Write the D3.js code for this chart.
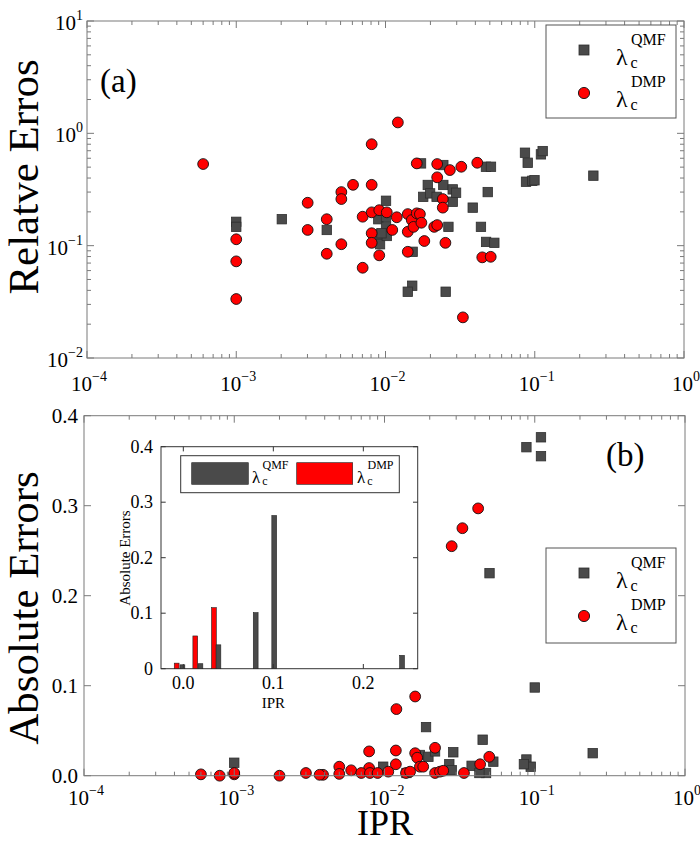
<!DOCTYPE html>
<html><head><meta charset="utf-8">
<script src="https://cdn.jsdelivr.net/npm/d3@7"></script>
<style>body{margin:0;background:#fff}svg{font-family:"Liberation Serif","DejaVu Serif",serif}</style>
</head><body><svg id="c" width="700" height="843"></svg>
<script>
// ---------- data ----------
const topQmfIPR = [0.001,0.001,0.00202,0.00404,0.00895,0.00919,0.00919,0.01008,0.01008,0.0102,0.01008,0.0094,0.0152,0.0151,0.0141,0.0173,0.0179,0.0192,0.0199,0.022,0.0244,0.0244,0.0253,0.0264,0.0282,0.0282,0.0297,0.0384,0.0436,0.0471,0.0509,0.0484,0.0472,0.0536,0.086,0.0897,0.110,0.113,0.0874,0.0963,0.0996,0.247];
const topQmfErr = [0.163,0.147,0.172,0.138,0.172,0.126,0.103,0.251,0.181,0.122,0.147,0.129,0.0882,0.044,0.0389,0.54,0.272,0.347,0.292,0.272,0.522,0.347,0.0389,0.147,0.317,0.246,0.296,0.218,0.147,0.504,0.504,0.30,0.108,0.106,0.672,0.547,0.65,0.695,0.371,0.378,0.382,0.42];
const topDmpIPR = [0.0006,0.001,0.001,0.001,0.00301,0.00301,0.00404,0.00404,0.00506,0.00506,0.00506,0.00606,0.00703,0.00703,0.00808,0.00808,0.00808,0.00808,0.00808,0.00908,0.00908,0.0102,0.0111,0.0119,0.0121,0.0141,0.0141,0.0141,0.015,0.0154,0.0162,0.0162,0.017,0.0174,0.0182,0.0212,0.0222,0.0222,0.0222,0.0242,0.0242,0.0252,0.027,0.0322,0.033,0.0412,0.0445,0.0507];
const topDmpErr = [0.533,0.114,0.0725,0.0335,0.241,0.138,0.172,0.0847,0.30,0.26,0.103,0.348,0.181,0.0636,0.80,0.348,0.198,0.129,0.106,0.207,0.082,0.198,0.138,0.179,1.25,0.191,0.133,0.0882,0.169,0.147,0.54,0.194,0.191,0.16,0.11,0.147,0.533,0.406,0.1525,0.26,0.218,0.106,0.471,0.504,0.023,0.547,0.0787,0.0796];

const botQmfIPR = [0.0189,0.045,0.243,0.0287,0.088,0.094,0.0847,0.0098,0.0172,0.0196,0.0217,0.027,0.028,0.038,0.053,0.0474,0.0428,0.014,0.001,0.088,0.11,0.11,0.05,0.1];
const botQmfErr = [0.054,0.040,0.025,0.026,0.018,0.010,0.0127,0.010,0.023,0.021,0.027,0.0127,0.006,0.011,0.0156,0.003,0.003,0.003,0.0144,0.365,0.376,0.355,0.225,0.098];
const botDmpIPR = [0.0079,0.0119,0.0217,0.016,0.0165,0.0498,0.0433,0.0119,0.005,0.0079,0.0338,0.003,0.0039,0.005,0.006,0.007,0.008,0.009,0.0106,0.0139,0.0148,0.0172,0.0181,0.0217,0.0234,0.0246,0.0006,0.0008,0.001,0.001,0.002,0.0037,0.028,0.033,0.042,0.016,0.012];
const botDmpErr = [0.027,0.028,0.031,0.025,0.020,0.021,0.0127,0.0127,0.010,0.0085,0.003,0.003,0.001,0.002,0.006,0.003,0.003,0.003,0.0045,0.003,0.0045,0.010,0.010,0.003,0.0045,0.0055,0.0015,0.0,0.0015,0.003,0.0,0.001,0.255,0.275,0.297,0.088,0.074];

const insetQmfIPR = [-0.001,0.019,0.039,0.0804,0.101,0.243];
const insetQmfErr = [0.007,0.009,0.043,0.101,0.276,0.024];
const insetDmpIPR = [-0.0074,0.0133,0.034];
const insetDmpErr = [0.010,0.059,0.110];

const logXTicks = [1e-4,1e-3,1e-2,1e-1,1];
const logYTicks = [1e-2,1e-1,1,10];
const linYTicks = [0,0.1,0.2,0.3,0.4];
const insetXTicks = [0,0.1,0.2];
const insetYTicks = [0,0.1,0.2,0.3,0.4];

// ---------- drawing ----------
const svg = d3.select('#c');
const AX = '#7a7a7a';
const GRAY = '#4a4a4a', RED = '#ff0000';

function pow10(sel, e, small, up){
  sel.append('tspan').text('10');
  sel.append('tspan').attr('dy',-up).attr('font-size',small).text(e<0?'\u2212'+(-e):String(e));
}
function ticksX(g, x, y0, y1, vals, len){
  vals.forEach(v=>{
    g.append('line').attr('x1',x(v)).attr('x2',x(v)).attr('y1',y0).attr('y2',y0-len).attr('stroke',AX);
    g.append('line').attr('x1',x(v)).attr('x2',x(v)).attr('y1',y1).attr('y2',y1+len).attr('stroke',AX);
  });
}
function ticksY(g, y, x0, x1, vals, len){
  vals.forEach(v=>{
    g.append('line').attr('y1',y(v)).attr('y2',y(v)).attr('x1',x0).attr('x2',x0+len).attr('stroke',AX);
    g.append('line').attr('y1',y(v)).attr('y2',y(v)).attr('x1',x1).attr('x2',x1-len).attr('stroke',AX);
  });
}
function minorLog(scale, majors){
  return scale.ticks().filter(t=>!majors.some(m=>Math.abs(t/m-1)<1e-6));
}
function markers(g, x, y, xs, ys, kind){
  const d = xs.map((v,i)=>[v,ys[i]]);
  if(kind==='sq'){
    g.selectAll(null).data(d).enter().append('rect')
      .attr('x',p=>x(p[0])-4.7).attr('y',p=>y(p[1])-4.7).attr('width',9.4).attr('height',9.4)
      .attr('fill',GRAY).attr('stroke','#2e2e2e').attr('stroke-width',0.8);
  } else {
    g.selectAll(null).data(d).enter().append('circle')
      .attr('cx',p=>x(p[0])).attr('cy',p=>y(p[1])).attr('r',5.4)
      .attr('fill',RED).attr('stroke','#111').attr('stroke-width',0.9);
  }
}
function lambda(g, x, y, sup, fs, ss){
  g.append('text').attr('x',x).attr('y',y).attr('font-size',fs).text('\u03bb');
  g.append('text').attr('x',x+fs*0.62).attr('y',y-fs*0.82).attr('font-size',ss).text(sup);
  g.append('text').attr('x',x+fs*0.6).attr('y',y+fs*0.12).attr('font-size',ss).text('c');
}
function legend(g, bx, by, bw, bh){
  g.append('rect').attr('x',bx).attr('y',by).attr('width',bw).attr('height',bh).attr('fill','#fff').attr('stroke','#555').attr('stroke-width',1);
  g.append('rect').attr('x',bx+33).attr('y',by+20).attr('width',10).attr('height',10).attr('fill',GRAY).attr('stroke','#2e2e2e').attr('stroke-width',0.8);
  g.append('circle').attr('cx',bx+38).attr('cy',by+68).attr('r',5.6).attr('fill',RED).attr('stroke','#111').attr('stroke-width',0.9);
  lambda(g, bx+70, by+40, 'QMF', 24, 16);
  lambda(g, bx+70, by+82, 'DMP', 24, 16);
}

// ===== Panel (a) =====
const xa = d3.scaleLog().domain([1e-4,1]).range([87,684]);
const ya = d3.scaleLog().domain([1e-2,10]).range([358,21]);
const ga = svg.append('g');
markers(ga, xa, ya, topQmfIPR, topQmfErr, 'sq');
markers(ga, xa, ya, topDmpIPR, topDmpErr, 'ci');
ga.append('rect').attr('x',87).attr('y',21).attr('width',684-87).attr('height',358-21).attr('fill','none').attr('stroke',AX);
ticksX(ga, xa, 358, 21, logXTicks, 7);
ticksX(ga, xa, 358, 21, minorLog(xa, logXTicks), 4);
ticksY(ga, ya, 87, 684, logYTicks, 7);
ticksY(ga, ya, 87, 684, minorLog(ya, logYTicks), 4);
logXTicks.forEach(t=>{
  const tx = ga.append('text').attr('x',xa(t)+2).attr('y',391).attr('text-anchor','middle').attr('font-size',21);
  pow10(tx, Math.round(Math.log10(t)), 14, 10);
});
logYTicks.forEach(t=>{
  const tx = ga.append('text').attr('x',83).attr('y',ya(t)+9).attr('text-anchor','end').attr('font-size',21);
  pow10(tx, Math.round(Math.log10(t)), 14, 10);
});
ga.append('text').attr('transform','translate(38,177) rotate(-90)').attr('text-anchor','middle').attr('font-size',43).text('Relatve Erros');
ga.append('text').attr('x',100).attr('y',92).attr('font-size',33).text('(a)');
legend(ga, 546, 25, 130, 93);

// ===== Panel (b) =====
const xb = d3.scaleLog().domain([1e-4,1]).range([84,685]);
const yb = d3.scaleLinear().domain([0,0.4]).range([775.7,415.7]);
const gb = svg.append('g');
markers(gb, xb, yb, botQmfIPR, botQmfErr, 'sq');
markers(gb, xb, yb, botDmpIPR, botDmpErr, 'ci');
gb.append('rect').attr('x',84).attr('y',415.7).attr('width',685-84).attr('height',360).attr('fill','none').attr('stroke',AX);
ticksX(gb, xb, 775.7, 415.7, logXTicks, 7);
ticksX(gb, xb, 775.7, 415.7, minorLog(xb, logXTicks), 4);
ticksY(gb, yb, 84, 685, linYTicks, 7);
logXTicks.forEach(t=>{
  const tx = gb.append('text').attr('x',xb(t)+2).attr('y',805).attr('text-anchor','middle').attr('font-size',21);
  pow10(tx, Math.round(Math.log10(t)), 14, 10);
});
linYTicks.forEach(t=>{
  gb.append('text').attr('x',78).attr('y',yb(t)+7).attr('text-anchor','end').attr('font-size',21).text(d3.format('.1f')(t));
});
gb.append('text').attr('transform','translate(38,608) rotate(-90)').attr('text-anchor','middle').attr('font-size',43).text('Absolute Errors');
gb.append('text').attr('x',385).attr('y',835).attr('text-anchor','middle').attr('font-size',36).text('IPR');
gb.append('text').attr('x',606).attr('y',466).attr('font-size',33).text('(b)');
legend(gb, 546, 548, 130, 95);

// ===== Inset =====
const xi = d3.scaleLinear().domain([-0.0248,0.2604]).range([161,417.7]);
const yi = d3.scaleLinear().domain([0,0.4]).range([668.7,446.7]);
const gi = svg.append('g');
gi.append('rect').attr('x',161).attr('y',446.7).attr('width',417.7-161).attr('height',222).attr('fill','#fff').attr('stroke','#333');
const bw = 4.8;
gi.selectAll(null).data(insetDmpIPR.map((v,i)=>[v,insetDmpErr[i]])).enter().append('rect')
  .attr('x',d=>xi(d[0])-bw/2).attr('y',d=>yi(d[1])).attr('width',bw).attr('height',d=>yi(0)-yi(d[1]))
  .attr('fill',RED).attr('stroke','#222').attr('stroke-width',0.6);
gi.selectAll(null).data(insetQmfIPR.map((v,i)=>[v,insetQmfErr[i]])).enter().append('rect')
  .attr('x',d=>xi(d[0])-bw/2).attr('y',d=>yi(d[1])).attr('width',bw).attr('height',d=>yi(0)-yi(d[1]))
  .attr('fill',GRAY).attr('stroke','#222').attr('stroke-width',0.6);
insetXTicks.forEach(t=>{
  gi.append('line').attr('x1',xi(t)).attr('x2',xi(t)).attr('y1',668.7).attr('y2',664).attr('stroke','#333');
  gi.append('line').attr('x1',xi(t)).attr('x2',xi(t)).attr('y1',446.7).attr('y2',451.4).attr('stroke','#333');
  gi.append('text').attr('x',xi(t)).attr('y',689).attr('text-anchor','middle').attr('font-size',18).text(d3.format('.1f')(t));
});
insetYTicks.forEach(t=>{
  gi.append('line').attr('y1',yi(t)).attr('y2',yi(t)).attr('x1',161).attr('x2',165.7).attr('stroke','#333');
  gi.append('line').attr('y1',yi(t)).attr('y2',yi(t)).attr('x1',417.7).attr('x2',413).attr('stroke','#333');
  gi.append('text').attr('x',153).attr('y',yi(t)+6).attr('text-anchor','end').attr('font-size',18).text(t===0?'0':d3.format('.1f')(t));
});
gi.append('text').attr('x',xi(0.1)).attr('y',708).attr('text-anchor','middle').attr('font-size',15).text('IPR');
gi.append('text').attr('transform','translate(130,558) rotate(-90)').attr('text-anchor','middle').attr('font-size',15).text('Absolute Errors');
gi.append('rect').attr('x',180.7).attr('y',455.7).attr('width',218.6).attr('height',37).attr('fill','#fff').attr('stroke','#333');
gi.append('rect').attr('x',191.7).attr('y',462.7).attr('width',56.6).attr('height',21.6).attr('fill',GRAY).attr('stroke','#222').attr('stroke-width',0.6);
gi.append('rect').attr('x',296.7).attr('y',462.7).attr('width',56).attr('height',21.6).attr('fill',RED).attr('stroke','#222').attr('stroke-width',0.6);
lambda(gi, 252, 483, 'QMF', 17, 12);
lambda(gi, 357, 483, 'DMP', 17, 12);
</script></body></html>
